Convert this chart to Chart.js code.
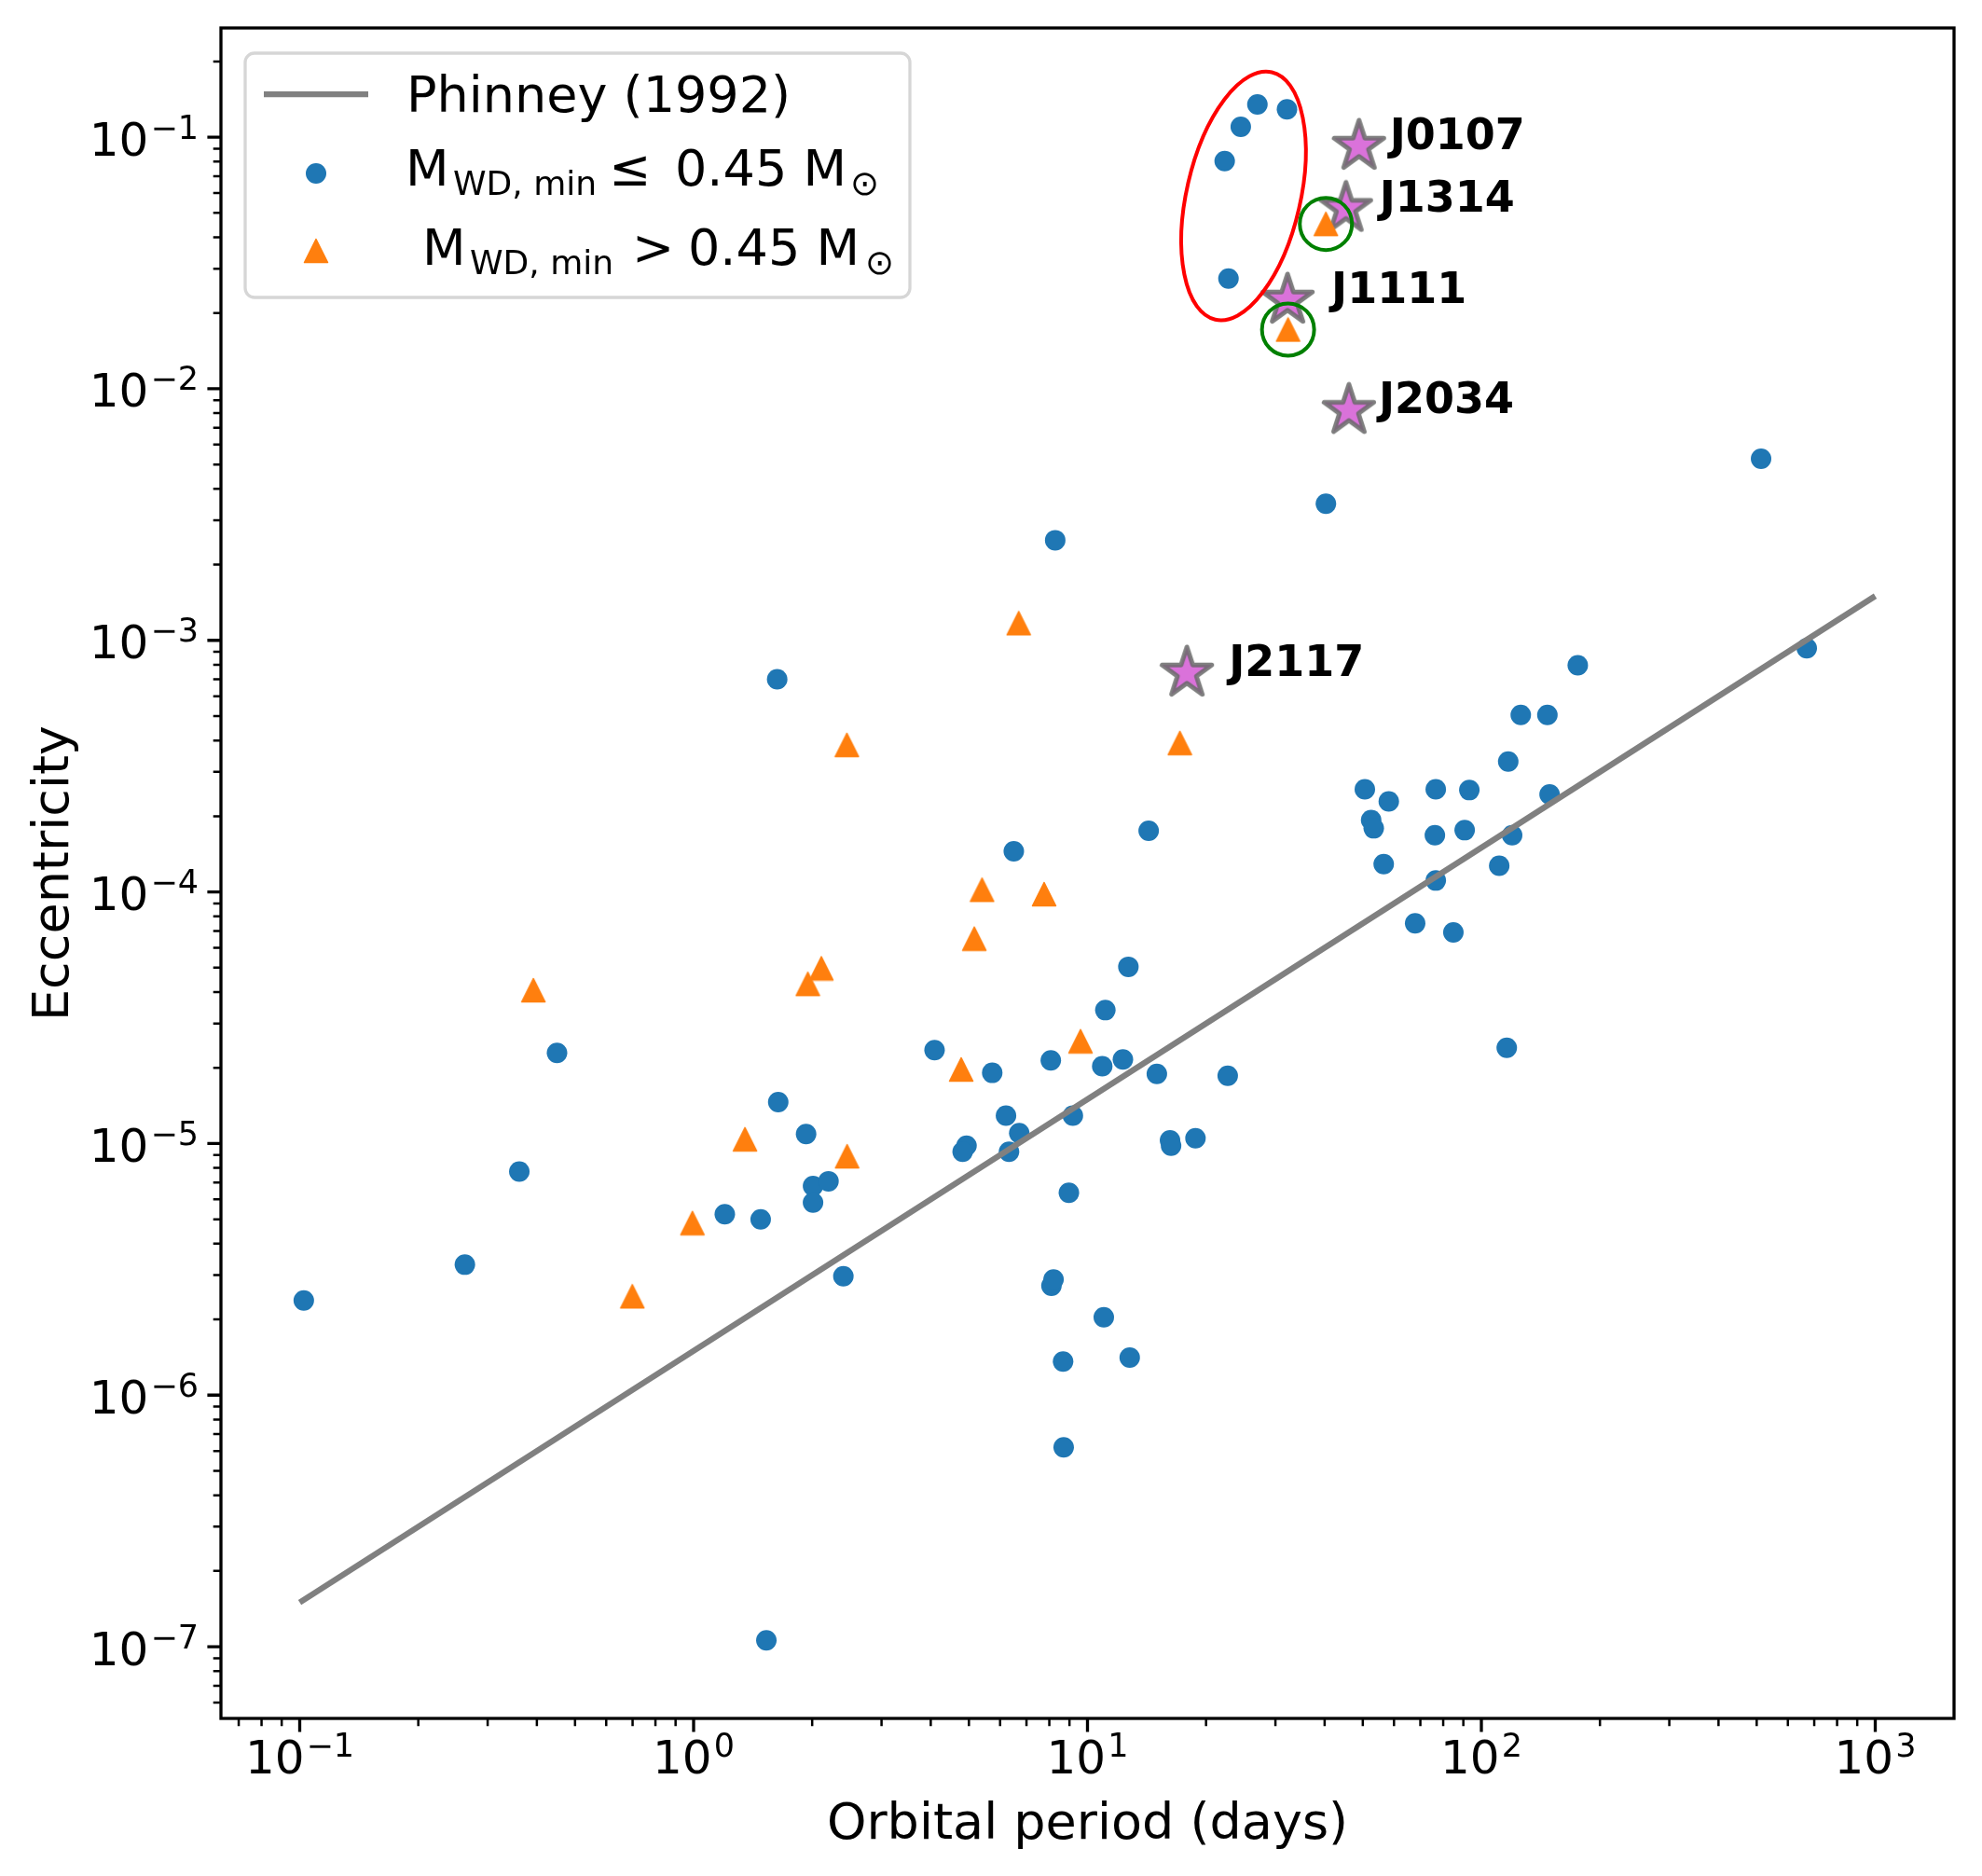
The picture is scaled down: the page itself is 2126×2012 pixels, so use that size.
<!DOCTYPE html>
<html>
<head>
<meta charset="utf-8">
<title>Eccentricity vs orbital period</title>
<style>
    body { margin: 0; background: #fff; }
    canvas { display: block; }
</style>
</head>
<body>
<canvas id="eccChart" width="2126" height="2012"></canvas>

<script src="https://cdn.jsdelivr.net/npm/chart.js"></script>
<script>
    // M_WD,min <= 0.45 Msun : orbital period (days) and eccentricity
    const lowP = [0.1024, 0.2626, 0.361, 0.450, 1.2, 1.48, 1.53, 1.63, 1.64, 1.93,
        2.01, 2.2, 2.01, 2.4, 4.09, 4.93, 4.82, 5.73, 6.21, 6.32,
        6.5, 6.71, 8.07, 8.1, 8.2, 8.28, 8.67, 8.7, 8.97, 9.18,
        10.9, 11.1, 11.0, 12.3, 12.7, 12.8, 14.3, 15.0, 16.2, 16.3,
        18.8, 22.7, 22.3, 22.8, 24.5, 27.0, 32.1, 40.3, 50.6, 52.5,
        53.3, 56.5, 58.2, 67.9, 76.6, 76.2, 76.6, 84.9, 90.7, 93.2,
        111, 116, 117, 119.7, 125.9, 147.1, 149, 175.7, 513, 670];
    const lowE = [2.38e-6, 3.3e-6, 7.74e-6, 2.29e-5, 5.24e-6, 5.0e-6, 1.06e-7, 7.0e-4, 1.46e-5, 1.09e-5,
        6.78e-6, 7.08e-6, 5.83e-6, 2.97e-6, 2.35e-5, 9.8e-6, 9.28e-6, 1.91e-5, 1.29e-5, 9.28e-6,
        1.45e-4, 1.1e-5, 2.14e-5, 2.72e-6, 2.88e-6, 2.5e-3, 1.36e-6, 6.2e-7, 6.37e-6, 1.29e-5,
        2.03e-5, 3.39e-5, 2.04e-6, 2.16e-5, 5.04e-5, 1.41e-6, 1.75e-4, 1.89e-5, 1.03e-5, 9.8e-6,
        1.05e-5, 1.86e-5, 0.0803, 0.0274, 0.110, 0.135, 0.129, 3.49e-3, 2.56e-4, 1.93e-4,
        1.79e-4, 1.29e-4, 2.29e-4, 7.5e-5, 2.56e-4, 1.68e-4, 1.11e-4, 6.9e-5, 1.76e-4, 2.54e-4,
        1.27e-4, 2.4e-5, 3.3e-4, 1.68e-4, 5.05e-4, 5.05e-4, 2.44e-4, 7.96e-4, 5.27e-3, 9.3e-4];

    // M_WD,min > 0.45 Msun
    const highP = [0.392, 0.699, 0.993, 1.35, 1.95, 2.11, 2.45, 2.453, 4.78, 5.16,
        5.4, 6.69, 7.76, 9.6, 17.16, 32.3, 40.3];
    const highE = [4.07e-5, 2.47e-6, 4.83e-6, 1.04e-5, 4.31e-5, 4.97e-5, 3.84e-4, 8.9e-6, 1.97e-5, 6.52e-5,
        1.02e-4, 1.17e-3, 9.8e-5, 2.55e-5, 3.91e-4, 0.01719, 0.0452];

    // named pulsars (stars)
    const starNames = ['J0107', 'J1314', 'J1111', 'J2034', 'J2117'];
    const starP = [48.9, 45.3, 32.2, 46.1, 17.88];
    const starE = [0.092, 0.0521, 0.0225, 0.0082, 7.41e-4];

    // Phinney (1992) relation, end points
    const phinneyP = [0.1, 1000];
    const phinneyE = [1.5e-7, 1.5e-3];

    // circled systems and the grouped systems (ellipse centre)
    const circledP = [40.3, 32.3];
    const circledE = [0.0452, 0.01719];
    const groupP = [24.9];
    const groupE = [0.0584];

    // axis ticks and labels
    const xTicks = [0.1, 1, 10, 100, 1000];
    const xTickExp = ['\u22121', '0', '1', '2', '3'];
    const yTicks = [1e-7, 1e-6, 1e-5, 1e-4, 1e-3, 1e-2, 1e-1];
    const yTickExp = ['\u22127', '\u22126', '\u22125', '\u22124', '\u22123', '\u22122', '\u22121'];
    const xMin = Math.pow(10, -1.2), xMax = Math.pow(10, 3.2);
    const yMin = Math.pow(10, -7.285), yMax = Math.pow(10, -0.566);

    const FONT = '"DejaVu Sans", sans-serif';
    const BLUE = '#1f77b4';
    const ORANGE = '#ff7f0e';

    function minorTicks(lo, hi) {
        const out = [];
        for (let d = -9; d <= 4; d++) {
            for (let k = 2; k <= 9; k++) {
                const v = k * Math.pow(10, d);
                if (v > lo && v < hi) out.push(v);
            }
        }
        return out;
    }
    const xMinor = minorTicks(xMin, xMax);
    const yMinor = minorTicks(yMin, yMax);

    function toPoints(xs, ys) {
        return xs.map((x, i) => ({ x: x, y: ys[i] }));
    }

    // marker images
    function starMarker() {
        const c = document.createElement('canvas');
        c.width = 72; c.height = 72;
        const g = c.getContext('2d');
        const R = 28, r = R * 0.381966;
        g.beginPath();
        for (let i = 0; i < 10; i++) {
            const a = -Math.PI / 2 + i * Math.PI / 5;
            const rad = i % 2 ? r : R;
            g.lineTo(36 + rad * Math.cos(a), 36 + rad * Math.sin(a));
        }
        g.closePath();
        g.fillStyle = '#da72da';
        g.fill();
        g.lineJoin = 'round';
        g.lineWidth = 5;
        g.strokeStyle = 'rgba(105,105,105,0.85)';
        g.stroke();
        return c;
    }
    function triangleMarker() {
        const c = document.createElement('canvas');
        c.width = 28; c.height = 28;
        const g = c.getContext('2d');
        g.beginPath();
        g.moveTo(14, 1.5);
        g.lineTo(1.5, 26.5);
        g.lineTo(26.5, 26.5);
        g.closePath();
        g.fillStyle = ORANGE;
        g.fill();
        g.lineJoin = 'round';
        g.lineWidth = 1.5;
        g.strokeStyle = ORANGE;
        g.stroke();
        return c;
    }
    const starImg = starMarker();
    const triImg = triangleMarker();

    function powerLabel(ctx, base, exp, x, y, align) {
        ctx.font = '50px ' + FONT;
        const wb = ctx.measureText(base).width;
        ctx.font = '35px ' + FONT;
        const we = ctx.measureText(exp).width;
        const gap = 2;
        const total = wb + gap + we;
        const x0 = align === 'center' ? x - total / 2 : x - total;
        ctx.textAlign = 'left';
        ctx.textBaseline = 'alphabetic';
        ctx.font = '50px ' + FONT;
        ctx.fillText(base, x0, y);
        ctx.font = '35px ' + FONT;
        ctx.fillText(exp, x0 + wb + gap, y - 18);
    }

    // "M_{WD, min} <rel> 0.45 M_sun", pieces placed at given x positions
    function massLabel(ctx, rel, xs, y) {
        ctx.textAlign = 'left';
        ctx.font = '54px ' + FONT;
        ctx.fillText('M', xs[0], y);
        ctx.font = '36px ' + FONT;
        ctx.fillText('WD, min', xs[1], y + 10);
        ctx.font = '54px ' + FONT;
        ctx.fillText(rel, xs[2], y);
        ctx.fillText('0.45 M', xs[3], y);
        ctx.font = '37px ' + FONT;
        ctx.fillText('\u2299', xs[4], y + 10);
    }

    const decorations = {
        id: 'decorations',
        afterDatasetsDraw(chart) {
            const ctx = chart.ctx;
            const xs = chart.scales.x, ys = chart.scales.y;
            ctx.save();
            // ellipse round the grouped systems
            ctx.strokeStyle = 'red';
            ctx.lineWidth = 4;
            groupP.forEach((p, i) => {
                ctx.beginPath();
                ctx.ellipse(xs.getPixelForValue(p), ys.getPixelForValue(groupE[i]), 61, 136, 12.9 * Math.PI / 180, 0, 2 * Math.PI);
                ctx.stroke();
            });
            // green circles
            ctx.strokeStyle = 'green';
            circledP.forEach((p, i) => {
                ctx.beginPath();
                ctx.arc(xs.getPixelForValue(p), ys.getPixelForValue(circledE[i]), 28, 0, 2 * Math.PI);
                ctx.stroke();
            });
            // star names
            const dx = [33, 36, 47, 32, 45];
            ctx.fillStyle = '#000';
            ctx.font = 'bold 46px ' + FONT;
            ctx.textAlign = 'left';
            ctx.textBaseline = 'alphabetic';
            starNames.forEach((n, i) => {
                ctx.fillText(n, xs.getPixelForValue(starP[i]) + dx[i], ys.getPixelForValue(starE[i]) + 3);
            });
            ctx.restore();
        },
        afterDraw(chart) {
            const ctx = chart.ctx;
            const a = chart.chartArea;
            const xs = chart.scales.x, ys = chart.scales.y;
            ctx.save();
            ctx.strokeStyle = '#000';
            ctx.fillStyle = '#000';
            // frame
            ctx.lineWidth = 3.3;
            ctx.strokeRect(a.left, a.top, a.right - a.left, a.bottom - a.top);
            // minor ticks
            ctx.lineWidth = 2.5;
            ctx.beginPath();
            xMinor.forEach(v => {
                const p = xs.getPixelForValue(v);
                ctx.moveTo(p, a.bottom); ctx.lineTo(p, a.bottom + 8.3);
            });
            yMinor.forEach(v => {
                const p = ys.getPixelForValue(v);
                ctx.moveTo(a.left, p); ctx.lineTo(a.left - 8.3, p);
            });
            ctx.stroke();
            // major ticks
            ctx.lineWidth = 3.3;
            ctx.beginPath();
            xTicks.forEach(v => {
                const p = xs.getPixelForValue(v);
                ctx.moveTo(p, a.bottom); ctx.lineTo(p, a.bottom + 14.6);
            });
            yTicks.forEach(v => {
                const p = ys.getPixelForValue(v);
                ctx.moveTo(a.left, p); ctx.lineTo(a.left - 14.6, p);
            });
            ctx.stroke();
            // tick labels
            xTicks.forEach((v, i) => {
                powerLabel(ctx, '10', xTickExp[i], xs.getPixelForValue(v), a.bottom + 59, 'center');
            });
            yTicks.forEach((v, i) => {
                powerLabel(ctx, '10', yTickExp[i], a.left - 24, ys.getPixelForValue(v) + 19.5, 'right');
            });
            // axis titles
            ctx.font = '54px ' + FONT;
            ctx.textAlign = 'center';
            ctx.textBaseline = 'alphabetic';
            ctx.fillText('Orbital period (days)', (a.left + a.right) / 2, 1972);
            ctx.save();
            ctx.translate(73, (a.top + a.bottom) / 2);
            ctx.rotate(-Math.PI / 2);
            ctx.fillText('Eccentricity', 0, 0);
            ctx.restore();

            // legend
            const L = 263, T = 57, W = 713, H = 262, rr = 10;
            ctx.beginPath();
            ctx.moveTo(L + rr, T);
            ctx.arcTo(L + W, T, L + W, T + H, rr);
            ctx.arcTo(L + W, T + H, L, T + H, rr);
            ctx.arcTo(L, T + H, L, T, rr);
            ctx.arcTo(L, T, L + W, T, rr);
            ctx.closePath();
            ctx.fillStyle = 'rgba(255,255,255,0.8)';
            ctx.fill();
            ctx.strokeStyle = '#d6d6d6';
            ctx.lineWidth = 3.3;
            ctx.stroke();

            ctx.strokeStyle = '#808080';
            ctx.lineWidth = 6.25;
            ctx.beginPath();
            ctx.moveTo(283, 101); ctx.lineTo(395, 101);
            ctx.stroke();
            ctx.fillStyle = BLUE;
            ctx.beginPath();
            ctx.arc(339, 186, 11, 0, 2 * Math.PI);
            ctx.fill();
            ctx.drawImage(triImg, 339 - 14, 269 - 14);

            ctx.fillStyle = '#000';
            ctx.textAlign = 'left';
            ctx.font = '54px ' + FONT;
            ctx.fillText('Phinney (1992)', 436, 120);
            massLabel(ctx, '\u2264', [435, 486, 653, 724, 912], 199);
            massLabel(ctx, '>', [453, 504, 678, 738, 928], 284);
            ctx.restore();
        }
    };

    const ctx = document.getElementById('eccChart').getContext('2d');
    const eccChart = new Chart(ctx, {
        type: 'scatter',
        data: {
            datasets: [
                {
                    label: 'Phinney (1992)',
                    data: toPoints(phinneyP, phinneyE),
                    showLine: true,
                    borderColor: '#808080',
                    borderWidth: 6.25,
                    pointRadius: 0,
                    order: 0
                },
                {
                    label: 'M_WD,min > 0.45 Msun',
                    data: toPoints(highP, highE),
                    pointStyle: triImg,
                    order: 1
                },
                {
                    label: 'M_WD,min <= 0.45 Msun',
                    data: toPoints(lowP, lowE),
                    pointStyle: 'circle',
                    pointRadius: 11,
                    borderWidth: 0,
                    backgroundColor: BLUE,
                    order: 2
                },
                {
                    label: 'Named pulsars',
                    data: toPoints(starP, starE),
                    pointStyle: starImg,
                    order: 3
                }
            ]
        },
        options: {
            responsive: false,
            devicePixelRatio: 1,
            animation: false,
            events: [],
            layout: { padding: { left: 237, top: 30, right: 30, bottom: 169 } },
            plugins: {
                legend: { display: false },
                tooltip: { enabled: false }
            },
            scales: {
                x: { type: 'logarithmic', min: xMin, max: xMax, display: false },
                y: { type: 'logarithmic', min: yMin, max: yMax, display: false }
            }
        },
        plugins: [decorations]
    });
</script>
</body>
</html>
